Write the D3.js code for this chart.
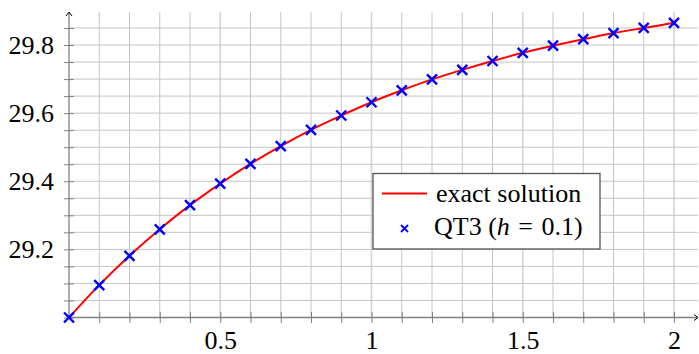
<!DOCTYPE html>
<html>
<head>
<meta charset="utf-8">
<script src="https://cdn.jsdelivr.net/npm/d3@7"></script>
<style>
  html, body { margin: 0; padding: 0; background: #fff; }
  svg { display: block; }
</style>
</head>
<body>
<svg id="chart" width="699" height="354"></svg>
<script>
// Time steps t and temperature values
const tValues = [0, 0.1, 0.2, 0.3, 0.4, 0.5, 0.6, 0.7, 0.8, 0.9, 1.0,
                 1.1, 1.2, 1.3, 1.4, 1.5, 1.6, 1.7, 1.8, 1.9, 2.0];
const exactValues = [29.000, 29.095, 29.181, 29.259, 29.330, 29.393, 29.451, 29.503,
                     29.551, 29.593, 29.632, 29.667, 29.699, 29.727, 29.753, 29.777,
                     29.798, 29.817, 29.835, 29.850, 29.865];
const qt3Values = [29.000, 29.095, 29.181, 29.259, 29.330, 29.393, 29.451, 29.503,
                   29.551, 29.593, 29.632, 29.667, 29.699, 29.727, 29.753, 29.777,
                   29.798, 29.817, 29.835, 29.850, 29.865];

const xTickLabels = [0.5, 1, 1.5, 2];
const yTickLabels = [29.2, 29.4, 29.6, 29.8];
const legendLabels = ["exact solution", "QT3"];

// Pick the first installed serif face by comparing measured widths against a monospace fallback
function pickFont(candidates) {
  const ctx = document.createElement("canvas").getContext("2d");
  const probe = "exact solution QT3 29.8 mmwwii";
  ctx.font = "40px monospace";
  const base = ctx.measureText(probe).width;
  for (const f of candidates) {
    ctx.font = `40px "${f}", monospace`;
    if (Math.abs(ctx.measureText(probe).width - base) > 0.5) return `"${f}"`;
  }
  return "serif";
}
const serif = pickFont(["Liberation Serif", "Tinos", "Times New Roman", "Nimbus Roman", "DejaVu Serif", "Noto Serif"]) + ", serif";

const svg = d3.select("#chart");

const x = d3.scaleLinear().domain([0, 2]).range([69, 674]);
const y = d3.scaleLinear().domain([29.0, 29.8]).range([317.5, 45]);

const xMax = x.invert(698);
const yMax = y.invert(12);

const xMinor = d3.range(1, 21).map(i => i / 10);
const yMinor = d3.range(0, 18).map(i => +(29 + i * 0.05).toFixed(2));

// Grid
const grid = svg.append("g").attr("fill", "none");
grid.selectAll("line.gx").data(xMinor).join("line")
  .attr("x1", d => x(d)).attr("x2", d => x(d))
  .attr("y1", y(29.0)).attr("y2", y(yMax))
  .attr("stroke", d => xTickLabels.includes(d) ? "#d4d4d4" : "#c4c4c4")
  .attr("stroke-width", d => xTickLabels.includes(d) ? 1.6 : 1);
grid.selectAll("line.gy").data(yMinor.filter(d => d > 29)).join("line")
  .attr("x1", x(0)).attr("x2", x(xMax))
  .attr("y1", d => y(d)).attr("y2", d => y(d))
  .attr("stroke", "#c4c4c4")
  .attr("stroke-width", 1);

// X axis ticks and labels
const xAxis = d3.axisBottom(x)
  .tickValues(xMinor)
  .tickSize(11)
  .tickPadding(8)
  .tickFormat(d => xTickLabels.includes(d) ? d3.format("~g")(d) : "");
const gx = svg.append("g")
  .attr("transform", `translate(0,${y(29.0) - 5.5})`)
  .call(xAxis);
gx.select(".domain").remove();
gx.selectAll(".tick line").attr("stroke", "#808080").attr("stroke-width", 1);
gx.selectAll(".tick text").style("font-size", "26px").style("font-family", serif).style("fill", "#000");

// Y axis ticks and labels
const yAxis = d3.axisLeft(y)
  .tickValues(yMinor)
  .tickSize(10)
  .tickPadding(10)
  .tickFormat(d => yTickLabels.includes(d) ? d3.format(".1f")(d) : "");
const gy = svg.append("g")
  .attr("transform", `translate(${x(0) + 5},0)`)
  .call(yAxis);
gy.select(".domain").remove();
gy.selectAll(".tick line").attr("stroke", "#808080").attr("stroke-width", 1);
gy.selectAll(".tick text").style("font-size", "26px").style("font-family", serif).style("fill", "#000");

// Axis lines with arrow tips
svg.append("line")
  .attr("x1", x(0)).attr("x2", x(xMax) - 1)
  .attr("y1", y(29.0)).attr("y2", y(29.0))
  .attr("stroke", "#808080").attr("stroke-width", 1.3);
svg.append("line")
  .attr("x1", x(0)).attr("x2", x(0))
  .attr("y1", y(29.0)).attr("y2", y(yMax) + 1)
  .attr("stroke", "#808080").attr("stroke-width", 1.3);
svg.append("path")
  .attr("d", `M${x(xMax) - 4},${y(29.0) - 3} L${x(xMax)},${y(29.0)} L${x(xMax) - 4},${y(29.0) + 3}`)
  .attr("fill", "none").attr("stroke", "#000").attr("stroke-width", 1);
svg.append("path")
  .attr("d", `M${x(0) - 3},${y(yMax) + 4} L${x(0)},${y(yMax)} L${x(0) + 3},${y(yMax) + 4}`)
  .attr("fill", "none").attr("stroke", "#000").attr("stroke-width", 1);

// Exact solution curve
const exactData = tValues.map((t, i) => [t, exactValues[i]]);
svg.append("path")
  .datum(exactData)
  .attr("fill", "none")
  .attr("stroke", "#ff0000")
  .attr("stroke-width", 2)
  .attr("d", d3.line().x(d => x(d[0])).y(d => y(d[1])).curve(d3.curveMonotoneX));

// QT3 markers
const crossPath = (cx, cy, r) => `M${cx - r},${cy - r}L${cx + r},${cy + r}M${cx - r},${cy + r}L${cx + r},${cy - r}`;
const qtData = tValues.map((t, i) => [t, qt3Values[i]]);
svg.append("g").selectAll("path").data(qtData).join("path")
  .attr("d", d => crossPath(x(d[0]), y(d[1]), 5))
  .attr("fill", "none")
  .attr("stroke", "#0000ff")
  .attr("stroke-width", 2.4);

// Legend
const lg = svg.append("g");
lg.append("rect")
  .attr("x", 373).attr("y", 173.5).attr("width", 227).attr("height", 75.5)
  .attr("fill", "#fff").attr("stroke", "#555").attr("stroke-width", 1.3);
lg.append("line")
  .attr("x1", 382).attr("x2", 427).attr("y1", 193.5).attr("y2", 193.5)
  .attr("stroke", "#ff0000").attr("stroke-width", 2);
lg.append("path")
  .attr("d", crossPath(404.5, 228.5, 3.5))
  .attr("fill", "none").attr("stroke", "#0000ff").attr("stroke-width", 1.8);
lg.append("text")
  .attr("x", 436).attr("y", 201.5)
  .style("font-size", "26px").style("font-family", serif)
  .text(legendLabels[0]);
// Second entry: label with the step size written as math
const t2 = lg.append("text")
  .attr("x", 434).attr("y", 235)
  .style("font-size", "26px").style("font-family", serif);
t2.append("tspan").text(legendLabels[1] + " (");
t2.append("tspan").style("font-style", "italic").text("h");
t2.append("tspan").attr("dx", 2).text(" =");
t2.append("tspan").attr("dx", 2).text(" 0.1)");
</script>
</body>
</html>
